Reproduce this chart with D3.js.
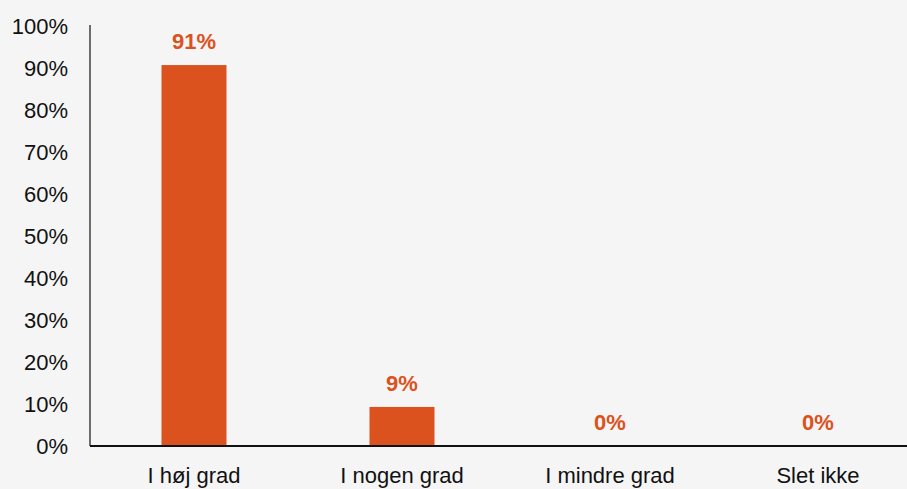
<!DOCTYPE html>
<html>
<head>
<meta charset="utf-8">
<script src="https://cdnjs.cloudflare.com/ajax/libs/d3/7.8.5/d3.min.js"></script>
<style>
  html, body { margin: 0; padding: 0; background: #f5f5f5; }
  svg { display: block; font-family: 'Liberation Sans', Arial, sans-serif; }
</style>
</head>
<body>
<div id="chart"></div>
<script>
// Data
var categories = ['I høj grad', 'I nogen grad', 'I mindre grad', 'Slet ikke']
var values = [90.7, 9.3, 0, 0]
var yTicks = [0, 10, 20, 30, 40, 50, 60, 70, 80, 90, 100]

var width = 907, height = 489
var orange = '#dc521e'
var fontSize = 22

var svg = d3.select('#chart')
  .append('svg')
  .attr('width', width)
  .attr('height', height)

svg.append('rect')
  .attr('width', width)
  .attr('height', height)
  .attr('fill', '#f5f5f5')

// Plot area
var plotLeft = 90, plotBottom = 446, plotTop = 26

var x = d3.scaleBand()
  .domain(categories)
  .range([plotLeft, plotLeft + 832])
  .paddingInner(0.6875)
  .paddingOuter(0.34375)

var y = d3.scaleLinear()
  .domain([0, 100])
  .range([plotBottom, plotTop])

// Y axis labels (no tick marks)
var yAxis = d3.axisLeft(y)
  .tickValues(yTicks)
  .tickFormat(function (d) { return d + '%' })
  .tickSize(0)
  .tickPadding(22)

var gy = svg.append('g')
  .attr('transform', 'translate(' + plotLeft + ',0)')
  .call(yAxis)
gy.select('.domain').remove()
gy.selectAll('text')
  .attr('font-size', fontSize)
  .attr('fill', '#111')
  .attr('font-family', null)

// Bars
svg.selectAll('.bar')
  .data(values)
  .enter()
  .append('rect')
  .attr('class', 'bar')
  .attr('x', function (d, i) { return x(categories[i]) })
  .attr('width', x.bandwidth())
  .attr('y', function (d) { return y(d) })
  .attr('height', function (d) { return plotBottom - y(d) })
  .attr('fill', orange)

// Value labels
svg.selectAll('.val')
  .data(values)
  .enter()
  .append('text')
  .attr('class', 'val')
  .attr('x', function (d, i) { return x(categories[i]) + x.bandwidth() / 2 })
  .attr('y', function (d) { return y(d) - 16 })
  .attr('text-anchor', 'middle')
  .attr('font-size', fontSize)
  .attr('font-weight', 'bold')
  .attr('fill', orange)
  .text(function (d) { return Math.round(d) + '%' })

// Y axis line
svg.append('line')
  .attr('x1', plotLeft).attr('x2', plotLeft)
  .attr('y1', plotTop - 1).attr('y2', plotBottom)
  .attr('stroke', '#111')
  .attr('stroke-width', 1.2)

// X axis
var xAxis = d3.axisBottom(x)
  .tickSize(0)
  .tickPadding(21)

var gx = svg.append('g')
  .attr('transform', 'translate(0,' + plotBottom + ')')
  .call(xAxis)
gx.select('.domain').remove()
gx.selectAll('text')
  .attr('font-size', fontSize)
  .attr('fill', '#111')
  .attr('font-family', null)

svg.append('line')
  .attr('x1', plotLeft).attr('x2', width)
  .attr('y1', plotBottom).attr('y2', plotBottom)
  .attr('stroke', '#111')
  .attr('stroke-width', 2)
</script>
</body>
</html>
